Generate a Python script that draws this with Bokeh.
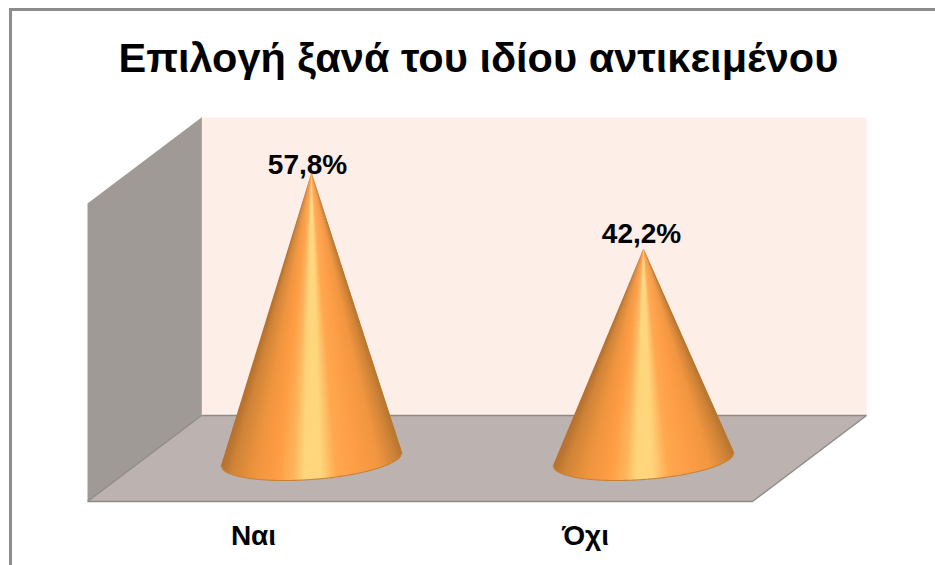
import numpy as np
from bokeh.plotting import figure
from bokeh.models import Range1d, LinearAxis, FixedTicker, ColumnDataSource
from bokeh.core.properties import value
from bokeh.embed import file_html
from bokeh.resources import INLINE

# ---- data ----
categories = ["Ναι", "Όχι"]
values = [57.8, 42.2]
value_labels = ["57,8%", "42,2%"]
title_text = "Επιλογή ξανά του ιδίου αντικειμένου"

# ---- layout (page pixels of the reference) ----
OX, OY = 12, 11            # canvas origin on the page (margin + css border)
FW, FH = 923, 554
FRAME_TOP, FRAME_BOTTOM = 100, 510
X0, UX = 253.0, 332.0      # first category on the axis, px per category
Y0, UY = 453.6, 4.87       # zero line, px per percent
def X(px): return (np.asarray(px, dtype=float) - X0) / UX
def Y(py): return (Y0 - np.asarray(py, dtype=float)) / UY

depth_dx = [58, 58]        # cones stand behind the axis labels
BASE_Y, BASE_A, BASE_B, BASE_TILT = 458.5, 90.5, 20.5, 6.5
label_dx = [-4, -2]
label_dy = [8, 15]

stop_t = [-1.0, -0.88, -0.62, -0.38, -0.2, -0.08, 0.1, 0.28, 0.5, 0.75, 0.92, 1.0]
stop_c = ["#b5702f", "#d08538", "#f0953f", "#ff9d44", "#ffb55c", "#ffd67c",
          "#ffd67c", "#ffa850", "#fe9e47", "#f29640", "#d08438", "#b8752f"]
stop_rgb = np.array([[int(c[i:i+2], 16) for i in (1, 3, 5)] for c in stop_c], dtype=float)

def shade(t):
    rgb = [int(round(np.interp(t, stop_t, stop_rgb[:, k]))) for k in range(3)]
    return "#%02x%02x%02x" % tuple(rgb)

p = figure(width=FW, height=FH, frame_width=FW, frame_height=FRAME_BOTTOM - FRAME_TOP,
           output_backend="svg", toolbar_location=None,
           x_range=Range1d(float(X(OX)), float(X(OX + FW))),
           y_range=Range1d(float(Y(FRAME_BOTTOM)), float(Y(FRAME_TOP))),
           x_axis_type=None, y_axis_type=None,
           min_border=0, min_border_top=FRAME_TOP - OY, min_border_bottom=OY + FH - FRAME_BOTTOM,
           min_border_left=0, min_border_right=0)
p.styles = {"margin-left": "9px", "margin-top": "8px",
            "border-left": "3px solid #8c8c8c", "border-top": "3px solid #8c8c8c"}
p.outline_line_color = None
p.background_fill_color = "white"
p.border_fill_color = "white"
p.grid.visible = False

p.title.text = title_text
p.title.align = "left"
p.title.offset = 118 - OX
p.title.text_font = "Liberation Sans"
p.title.text_font_size = "41.5px"
p.title.text_font_style = "bold"
p.title.text_color = "#000000"
p.title.standoff = 39

axis = LinearAxis(ticker=FixedTicker(ticks=list(range(len(categories)))),
                  major_label_overrides={i: c for i, c in enumerate(categories)})
axis.axis_line_color = None
axis.major_tick_line_color = None
axis.minor_tick_line_color = None
axis.major_label_text_font = "Liberation Sans"
axis.major_label_text_font_style = "bold"
axis.major_label_text_font_size = "28px"
axis.major_label_text_color = "#000000"
axis.major_label_standoff = 3
p.add_layout(axis, "below")

# 3D walls and floor
p.patch(X([201, 866, 866, 201]), Y([117, 117, 415, 415]), fill_color="#fdeee7", line_color=None)
p.patch(X([87, 201, 201, 87]), Y([203, 117, 415, 501]), fill_color="#a09a96", line_color=None)
p.patch(X([87, 201, 866, 752]), Y([501, 415, 415, 501]), fill_color="#bcb2af", line_color=None)
p.line(X([87, 201, 866, 752, 87]), Y([501, 415, 415, 501, 501]), line_color="#8f8b89", line_width=1.4)
p.line(X([201, 201]), Y([117, 415]), line_color="#b0aaa7", line_width=1)

# cones, drawn as fans of thin shaded wedges from the apex to the base ellipse
ts = np.linspace(-1, 1, 121)
for i, v in enumerate(values):
    cx = X0 + UX * i + depth_dx[i]
    apex_x, apex_y = float(X(cx)), float(v)
    thetas = np.arccos(ts)
    bx = cx + BASE_A * ts
    by = BASE_Y + BASE_B * np.sin(thetas) - BASE_TILT * ts
    xs, ys, cols = [], [], []
    for a in range(len(ts) - 1):
        b = min(a + 2, len(ts) - 1)   # each wedge runs under the next, so no seams show
        xs.append([apex_x, float(X(bx[a])), float(X(bx[b]))])
        ys.append([apex_y, float(Y(by[a])), float(Y(by[b]))])
        cols.append(shade((ts[a] + ts[a + 1]) / 2))
    p.patches(xs, ys, fill_color=cols, line_color=None)
    p.line(X(bx), Y(by), line_color="#c98038", line_width=1.1)

# value labels at the apexes
src = ColumnDataSource(dict(
    x=[float(X(X0 + UX * i + depth_dx[i])) for i in range(len(values))],
    y=values, t=value_labels, xo=label_dx, yo=[-d for d in label_dy]))
p.text("x", "y", text="t", source=src, x_offset="xo", y_offset="yo",
       text_align="center", text_baseline="alphabetic",
       text_font=value("Liberation Sans"), text_font_style="bold",
       text_font_size="28px", text_color="#000000")

open("out.html", "w").write(file_html(p, INLINE))
